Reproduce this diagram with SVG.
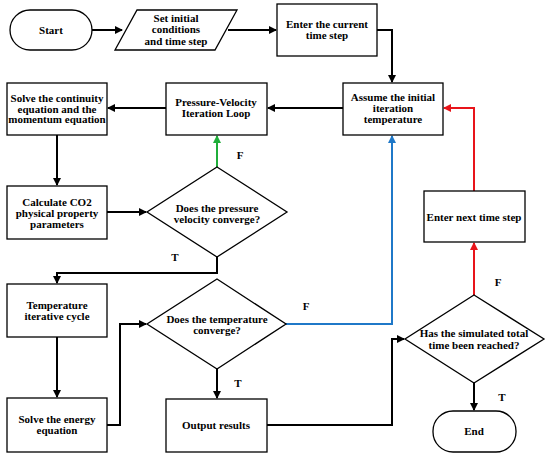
<svg xmlns="http://www.w3.org/2000/svg" width="550" height="457" viewBox="0 0 550 457">
<defs>
<marker id="ak" markerWidth="8" markerHeight="8" refX="7" refY="4" orient="auto" markerUnits="userSpaceOnUse"><path d="M0,0 L8,4 L0,8 Z" fill="#000"/></marker>
<marker id="ag" markerWidth="8" markerHeight="8" refX="7" refY="4" orient="auto" markerUnits="userSpaceOnUse"><path d="M0,0 L8,4 L0,8 Z" fill="#1fae3a"/></marker>
<marker id="ab" markerWidth="8" markerHeight="8" refX="7" refY="4" orient="auto" markerUnits="userSpaceOnUse"><path d="M0,0 L8,4 L0,8 Z" fill="#1f78c8"/></marker>
<marker id="ar" markerWidth="8" markerHeight="8" refX="7" refY="4" orient="auto" markerUnits="userSpaceOnUse"><path d="M0,0 L8,4 L0,8 Z" fill="#e8141a"/></marker>
</defs>
<style>
.s{fill:#fff;stroke:#000;stroke-width:1.3}
.t{font-weight:bold;font-size:11px;text-anchor:middle;fill:#000}
.c{fill:none;stroke-width:2}
.k{stroke:#000}
.g{stroke:#1fae3a}
.b{stroke:#1f78c8}
.r{stroke:#e8141a}
</style>
<g font-family="'Liberation Serif', 'Times New Roman', 'DejaVu Serif', serif">
<g id="connectors" class="t">
<path class="c k" d="M92,30 H122" marker-end="url(#ak)"/>
<path class="c k" d="M228,30 H276" marker-end="url(#ak)"/>
<path class="c k" d="M377,30 H392 V82" marker-end="url(#ak)"/>
<path class="c k" d="M343,108 H268" marker-end="url(#ak)"/>
<path class="c k" d="M166,108 H108" marker-end="url(#ak)"/>
<path class="c k" d="M57,135 V185" marker-end="url(#ak)"/>
<path class="c k" d="M107,212 H146" marker-end="url(#ak)"/>
<path class="c g" d="M217,167 V136" marker-end="url(#ag)"/>
<path class="c k" d="M217,257 V273 H57 V283" marker-end="url(#ak)"/>
<path class="c k" d="M57,337 V397" marker-end="url(#ak)"/>
<path class="c k" d="M107,425 H120 V324 H146" marker-end="url(#ak)"/>
<path class="c k" d="M217,369 V398" marker-end="url(#ak)"/>
<path class="c b" d="M286,324 H392 V136" marker-end="url(#ab)"/>
<path class="c k" d="M267,425 H392 V339 H404" marker-end="url(#ak)"/>
<path class="c k" d="M474,383 V410" marker-end="url(#ak)"/>
<path class="c r" d="M474,295 V243" marker-end="url(#ar)"/>
<path class="c r" d="M474,191 V108 H444" marker-end="url(#ar)"/>
<text x="240" y="159">F</text>
<text x="175" y="261">T</text>
<text x="238" y="387">T</text>
<text x="306" y="310">F</text>
<text x="498" y="286">F</text>
<text x="502" y="401">T</text>
</g>
<g id="start" class="t"><rect class="s" x="10" y="10" width="82" height="40" rx="20"/><text x="51" y="34">Start</text></g>
<g id="init" class="t"><path class="s" d="M137,10 H237 L215,50 H115 Z"/><text x="176" y="22">Set initial</text><text x="176" y="33">conditions</text><text x="176" y="45">and time step</text></g>
<g id="enter-current" class="t"><rect class="s" x="277" y="4" width="100" height="52"/><text x="327" y="28">Enter the current</text><text x="327" y="39">time step</text></g>
<g id="assume" class="t"><rect class="s" x="343" y="83" width="100" height="52"/><text x="393" y="101">Assume the initial</text><text x="393" y="112">iteration</text><text x="393" y="123">temperature</text></g>
<g id="pv-loop" class="t"><rect class="s" x="166" y="83" width="101" height="52"/><text x="216" y="106">Pressure-Velocity</text><text x="216" y="117">Iteration Loop</text></g>
<g id="solve-cont" class="t"><rect class="s" x="7" y="83" width="100" height="52"/><text x="57" y="102">Solve the continuity</text><text x="57" y="112.5">equation and the</text><text x="57" y="123">momentum equation</text></g>
<g id="calc" class="t"><rect class="s" x="7" y="186" width="100" height="53"/><text x="57" y="206">Calculate CO2</text><text x="57" y="217">physical property</text><text x="57" y="228">parameters</text></g>
<g id="pv-conv" class="t"><path class="s" d="M217,167 L287,212 L217,257 L147,212 Z"/><text x="217" y="212">Does the pressure</text><text x="217" y="223">velocity converge?</text></g>
<g id="temp-cycle" class="t"><rect class="s" x="7" y="284" width="100" height="53"/><text x="57" y="309">Temperature</text><text x="57" y="320">iterative cycle</text></g>
<g id="solve-energy" class="t"><rect class="s" x="7" y="398" width="100" height="54"/><text x="57" y="423">Solve the energy</text><text x="57" y="434">equation</text></g>
<g id="temp-conv" class="t"><path class="s" d="M217,279 L286,324 L217,369 L147,324 Z"/><text x="217" y="323">Does the temperature</text><text x="217" y="334">converge?</text></g>
<g id="output" class="t"><rect class="s" x="166" y="399" width="101" height="53"/><text x="216" y="429">Output results</text></g>
<g id="total-time" class="t"><path class="s" d="M474,295 L544,339 L474,383 L405,339 Z"/><text x="474" y="337">Has the simulated total</text><text x="474" y="349">time been reached?</text></g>
<g id="enter-next" class="t"><rect class="s" x="424" y="191" width="101" height="51"/><text x="474" y="221">Enter next time step</text></g>
<g id="end" class="t"><rect class="s" x="433" y="411" width="83" height="41" rx="20"/><text x="474" y="435">End</text></g>
</g>
</svg>
